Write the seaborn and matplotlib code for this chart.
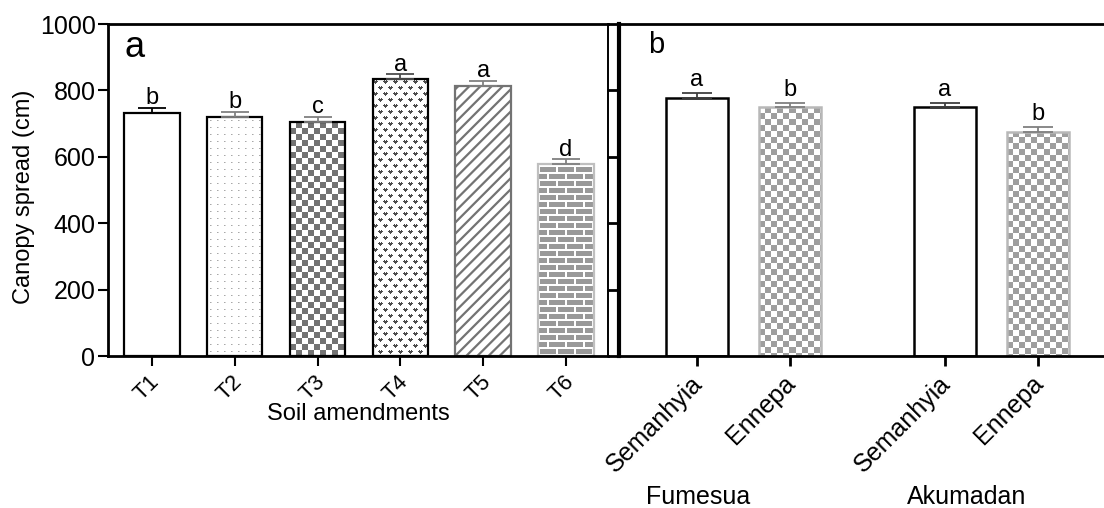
import numpy as np
import pandas as pd
import matplotlib
matplotlib.use("Agg")
import matplotlib.pyplot as plt
import matplotlib.transforms as mtransforms
import seaborn as sns

# ---- data -------------------------------------------------------------
treatments = ["T1", "T2", "T3", "T4", "T5", "T6"]
spread_means = [731, 719, 704, 833, 813, 577]
spread_err = [17, 17, 17, 16, 16, 16]
spread_letters = ["b", "b", "c", "a", "a", "d"]

locations = ["Fumesua", "Fumesua", "Akumadan", "Akumadan"]
varieties = ["Semanhyia", "Ennepa", "Semanhyia", "Ennepa"]
variety_means = [778, 749, 749, 675]
variety_err = [13, 13, 13, 14]
variety_letters = ["a", "b", "a", "b"]

y_ticks = [0, 200, 400, 600, 800, 1000]

# ---- style ------------------------------------------------------------
sns.set_theme(style="ticks")
plt.rcParams["font.family"] = ["Liberation Sans", "DejaVu Sans"]
plt.rcParams["hatch.linewidth"] = 1.6
for key in ["text.color", "axes.labelcolor", "xtick.color", "ytick.color",
            "axes.edgecolor"]:
    plt.rcParams[key] = "black"

W, H, DPI = 1104, 508, 100
fig = plt.figure(figsize=(W / DPI, H / DPI), dpi=DPI)


def px_rect(x0, y0, x1, y1):
    """Pixel box (origin top-left) -> figure fraction rect."""
    return [x0 / W, 1 - y1 / H, (x1 - x0) / W, (y1 - y0) / H]


ax_a = fig.add_axes(px_rect(108, 24, 608, 356))
ax_b = fig.add_axes(px_rect(619, 24, 1104, 356))


# ---- fill patterns (one array pixel per screen pixel) ------------------
def pat_dots(h, w, shade=0.66):
    img = np.ones((h, w))
    img[3::7, 3::7] = shade
    img[3::7, 4::7] = 0.82
    return img


def pat_checker(h, w, cell=6, shade=0.45):
    yy, xx = np.mgrid[0:h, 0:w]
    img = np.ones((h, w))
    img[((yy // cell + xx // cell) % 2).astype(bool)] = shade
    return img


def pat_hearts(h, w, shade=0.3):
    glyph = np.array([[0, 1, 0, 1, 0],
                      [1, 1, 1, 1, 1],
                      [0, 1, 1, 1, 0],
                      [0, 0, 1, 0, 0]], dtype=bool)
    tile = np.ones((12, 10))
    tile[1:5, 0:5][glyph] = shade
    tile[7:11, 5:10][glyph] = shade
    reps = (h // 12 + 2, w // 10 + 2)
    return np.tile(tile, reps)[:h, :w]


def pat_bricks(h, w, shade=0.6):
    img = np.full((h, w), shade)
    yy, xx = np.mgrid[0:h, 0:w]
    row = (h - 1 - yy) // 7
    img[((h - 1 - yy) % 7) < 2] = 1.0
    offs = (row % 2) * 9
    img[((xx + offs) % 18) < 2] = 1.0
    return img


def fill_pattern(ax, patch, maker, **kw):
    (x0, y0), (x1, y1) = patch.get_bbox().get_points()
    p0 = ax.transData.transform((x0, y0))
    p1 = ax.transData.transform((x1, y1))
    w = max(int(round(abs(p1[0] - p0[0]))), 1)
    h = max(int(round(abs(p1[1] - p0[1]))), 1)
    img = maker(h, w, **kw)
    im = ax.imshow(img, cmap="gray", vmin=0, vmax=1, extent=(x0, x1, y0, y1),
                   aspect="auto", interpolation="nearest",
                   zorder=patch.get_zorder() - 0.05)
    im.set_clip_path(patch)
    patch.set_facecolor("none")


def nudge_ticklabels(ax, dx_px):
    shift = mtransforms.ScaledTranslation(dx_px / DPI, 0, fig.dpi_scale_trans)
    for lab in ax.get_xticklabels():
        lab.set_transform(lab.get_transform() + shift)


# ---- panel a: soil amendments -----------------------------------------
sns.barplot(x=treatments, y=spread_means, color="white", edgecolor="black",
            linewidth=1.6, width=0.67, errorbar=None, ax=ax_a)
ax_a.set_xlim(-0.53, 5.506)
ax_a.set_ylim(0, 1000)

bars_a = sorted(ax_a.patches, key=lambda p: p.get_x())
edge_a = ["black", "black", "black", "black", "0.72", "0.75"]
err_col_a = ["black", "0.5", "0.5", "0.3", "0.5", "0.5"]
for p, ec in zip(bars_a, edge_a):
    p.set_edgecolor(ec)
fill_pattern(ax_a, bars_a[1], pat_dots)
fill_pattern(ax_a, bars_a[2], pat_checker, cell=6, shade=0.45)
fill_pattern(ax_a, bars_a[3], pat_hearts)
bars_a[4].set_hatch("///")
bars_a[4].set_edgecolor("0.45")
fill_pattern(ax_a, bars_a[5], pat_bricks)

for p, m, e, col, lab in zip(bars_a, spread_means, spread_err, err_col_a, spread_letters):
    xc = p.get_x() + p.get_width() / 2
    ax_a.errorbar([xc], [m], yerr=[[0], [e]], fmt="none", ecolor=col,
                  elinewidth=1.3, capsize=10, capthick=1.3, zorder=3)
    ax_a.annotate(lab, xy=(xc, m + e), xytext=(0, 2.5), textcoords="offset points",
                  ha="center", va="baseline", fontsize=17)

ax_a.set_xlim(-0.53, 5.506)
ax_a.set_ylim(0, 1000)
ax_a.set_yticks(y_ticks)
ax_a.set_xticks([p.get_x() + p.get_width() / 2 for p in bars_a])
ax_a.set_xticklabels(treatments, rotation=45, ha="right", rotation_mode="anchor",
                     fontsize=16)
ax_a.tick_params(axis="y", labelsize=18, length=7, width=1.5, direction="out", pad=2)
ax_a.tick_params(axis="x", length=7, width=1.5, direction="out", pad=4)
nudge_ticklabels(ax_a, -3)
for side, sp in ax_a.spines.items():
    sp.set_visible(True)
    sp.set_color("black")
    sp.set_linewidth(1.4)
ax_a.spines["left"].set_linewidth(2)
ax_a.spines["bottom"].set_linewidth(2)
ax_a.spines["top"].set_linewidth(2)
ax_a.set_ylabel("Canopy spread (cm)", fontsize=17)
ax_a.yaxis.set_label_coords(-0.146, 0.48)
ax_a.set_xlabel("Soil amendments", fontsize=17)
ax_a.xaxis.set_label_coords(0.5, -0.143)
ax_a.text(0.032, 0.90, "a", transform=ax_a.transAxes, fontsize=26, va="baseline")

# ---- panel b: variety by location -------------------------------------
df_b = pd.DataFrame({"location": locations, "variety": varieties,
                     "spread": variety_means})
sns.barplot(data=df_b, x="location", y="spread", hue="variety",
            hue_order=["Semanhyia", "Ennepa"], palette=["white", "white"],
            width=0.75, gap=0.33, edgecolor="black", linewidth=1.8,
            errorbar=None, legend=False, ax=ax_b)
ax_b.set_xlim(-0.502, 1.454)
ax_b.set_ylim(0, 1000)

bars_b = sorted(ax_b.patches, key=lambda p: p.get_x())
err_col_b = ["0.25", "0.5", "0.25", "0.5"]
for i, p in enumerate(bars_b):
    if varieties[i] == "Ennepa":
        p.set_edgecolor("0.72")
        fill_pattern(ax_b, p, pat_checker, cell=6, shade=0.62)

for p, m, e, col, lab in zip(bars_b, variety_means, variety_err, err_col_b, variety_letters):
    xc = p.get_x() + p.get_width() / 2
    ax_b.errorbar([xc], [m], yerr=[[0], [e]], fmt="none", ecolor=col,
                  elinewidth=1.3, capsize=11, capthick=1.3, zorder=3)
    ax_b.annotate(lab, xy=(xc, m + e), xytext=(0, 5), textcoords="offset points",
                  ha="center", va="baseline", fontsize=17)

ax_b.set_xlim(-0.502, 1.454)
ax_b.set_ylim(0, 1000)
ax_b.set_yticks(y_ticks)
ax_b.set_xticks([p.get_x() + p.get_width() / 2 for p in bars_b])
ax_b.set_xticklabels(varieties, rotation=45, ha="right", rotation_mode="anchor",
                     fontsize=18)
ax_b.set_xlabel("")
ax_b.set_ylabel("")
ax_b.tick_params(axis="y", labelleft=False, length=9, width=2, direction="out")
ax_b.tick_params(axis="x", length=7, width=2, direction="out", pad=4)
nudge_ticklabels(ax_b, -7)
ax_b.spines["right"].set_visible(False)
ax_b.spines["left"].set_linewidth(3)
ax_b.spines["top"].set_linewidth(2)
ax_b.spines["bottom"].set_linewidth(2)
for sp in ax_b.spines.values():
    sp.set_color("black")
ax_b.text(0.06, 0.913, "b", transform=ax_b.transAxes, fontsize=21, va="baseline")

# location labels under each pair of varieties
group_tf = mtransforms.blended_transform_factory(ax_b.transData, fig.transFigure)
for gi, (loc, dx) in enumerate(zip(["Fumesua", "Akumadan"], [-33, -18])):
    ax_b.annotate(loc, xy=(gi, 0.008), xycoords=group_tf, xytext=(dx, 0),
                  textcoords="offset points", ha="center", va="baseline",
                  fontsize=18, annotation_clip=False)

fig.savefig("out.png", dpi=DPI)
